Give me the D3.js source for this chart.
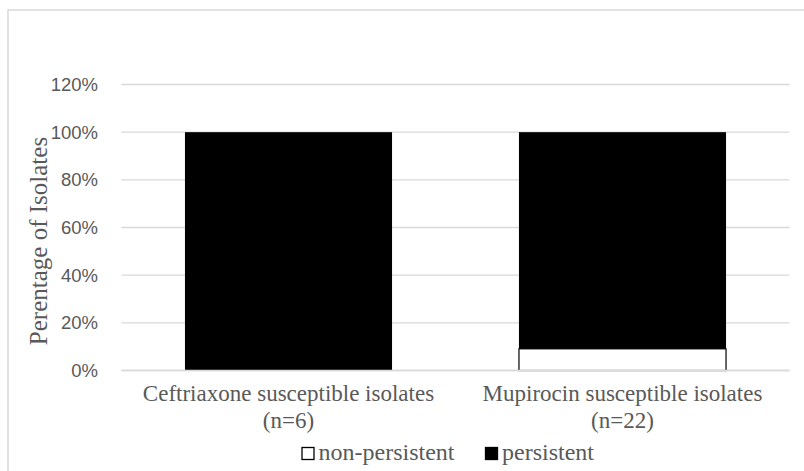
<!DOCTYPE html>
<html>
<head>
<meta charset="utf-8">
<script src="https://cdn.jsdelivr.net/npm/d3@7"></script>
<style>
  html, body { margin: 0; padding: 0; background: #ffffff; }
  svg { display: block; }
</style>
</head>
<body>
<svg id="chart" width="804" height="471"></svg>
<script>
const categories = ["Ceftriaxone susceptible isolates|(n=6)", "Mupirocin susceptible isolates|(n=22)"];
const seriesNames = ["non-persistent", "persistent"];
const nonPersistent = [0, 0.0909];
const persistent = [1.0, 0.9091];
const yTicks = [0, 0.2, 0.4, 0.6, 0.8, 1.0, 1.2];
const yTickLabels = ["0%", "20%", "40%", "60%", "80%", "100%", "120%"];
const yTitle = "Perentage of Isolates";

const svg = d3.select("#chart");
const W = 804, H = 471;
const grey = "#595959";
const gridCol = "#d9d9d9";
const serif = "'Liberation Serif', 'Times New Roman', serif";
const sans = "'Liberation Sans', Arial, sans-serif";

// chart frame
svg.append("rect").attr("x", 8).attr("y", 10).attr("width", W + 10).attr("height", H + 10)
  .attr("fill", "#fff").attr("stroke", gridCol).attr("stroke-width", 1.5);

const plot = { left: 121.5, right: 789.5, top: 84.5, bottom: 370.5 };

const x = d3.scaleBand().domain(categories).range([plot.left, plot.right])
  .paddingInner(0.38).paddingOuter(0.19);
const y = d3.scaleLinear().domain([0, 1.2]).range([plot.bottom, plot.top]);

// gridlines
svg.append("g").selectAll("line").data(yTicks).join("line")
  .attr("x1", plot.left).attr("x2", plot.right)
  .attr("y1", d => y(d)).attr("y2", d => y(d))
  .attr("stroke", gridCol).attr("stroke-width", 1.3);

// y axis labels
const yAxis = d3.axisLeft(y).tickValues(yTicks).tickFormat((d, i) => yTickLabels[i]).tickSize(0).tickPadding(0);
const gy = svg.append("g").attr("transform", `translate(98,0)`).call(yAxis);
gy.select(".domain").remove();
gy.selectAll("text").attr("fill", grey).style("font-family", sans).style("font-size", "18.5px");

// stacked data
const rows = categories.map((c, i) => ({ cat: c, "non-persistent": nonPersistent[i], "persistent": persistent[i] }));
const stack = d3.stack().keys(seriesNames)(rows);
const fills = { "non-persistent": "#ffffff", "persistent": "#000000" };

svg.append("g").selectAll("g").data(stack).join("g")
  .each(function (layer) {
    d3.select(this).selectAll("rect").data(layer.filter(d => d[1] - d[0] > 0)).join("rect")
      .attr("x", d => x(d.data.cat))
      .attr("width", x.bandwidth())
      .attr("y", d => y(d[1]))
      .attr("height", d => y(d[0]) - y(d[1]))
      .attr("fill", fills[layer.key])
      .attr("stroke", "#000").attr("stroke-width", layer.key === "non-persistent" ? 1.2 : 0);
  });

// baseline
svg.append("line").attr("x1", plot.left).attr("x2", plot.right)
  .attr("y1", y(0)).attr("y2", y(0)).attr("stroke", gridCol).attr("stroke-width", 1.3);

// category labels
const xl = svg.append("g");
categories.forEach(c => {
  const lines = c.split("|");
  const t = xl.append("text").attr("text-anchor", "middle")
    .attr("fill", grey).style("font-family", serif).style("font-size", "23px");
  lines.forEach((ln, j) => {
    t.append("tspan").attr("x", x(c) + x.bandwidth() / 2).attr("y", 401 + j * 26.5).text(ln);
  });
});

// y title
svg.append("text")
  .attr("transform", `translate(47,241) rotate(-90)`)
  .attr("text-anchor", "middle")
  .attr("fill", grey).style("font-family", serif).style("font-size", "25px")
  .text(yTitle);

// legend
const legendItems = [
  { name: seriesNames[0], fill: "#ffffff", x: 302 },
  { name: seriesNames[1], fill: "#000000", x: 485.5 }
];
const lg = svg.append("g");
legendItems.forEach(it => {
  lg.append("rect").attr("x", it.x).attr("y", 447.5).attr("width", 12).attr("height", 12)
    .attr("fill", it.fill).attr("stroke", "#000").attr("stroke-width", 1.3);
  lg.append("text").attr("x", it.x + 16.5).attr("y", 460)
    .attr("fill", grey).style("font-family", serif).style("font-size", "24px").text(it.name);
});
</script>
</body>
</html>
